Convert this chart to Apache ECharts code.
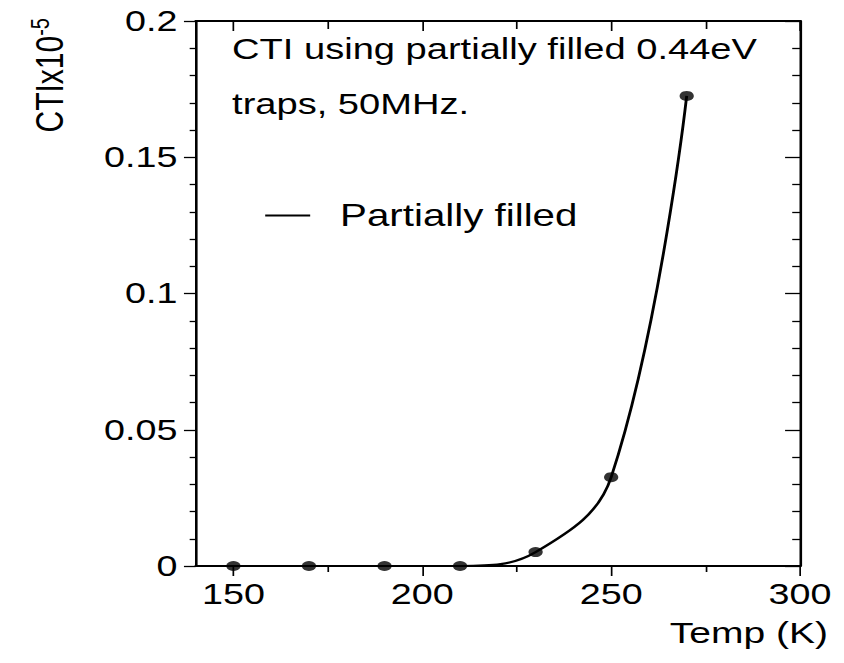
<!DOCTYPE html>
<html>
<head>
<meta charset="utf-8">
<script src="https://cdn.jsdelivr.net/npm/echarts@6/dist/echarts.min.js"></script>
<style>
html,body{margin:0;padding:0;background:#fff;overflow:hidden;}
#wrap{width:844px;height:663px;overflow:hidden;}
#chart{width:649px;height:663px;transform:scaleX(1.3);transform-origin:0 0;}
</style>
</head>
<body>
<div id="wrap"><div id="chart"></div></div>
<script>
// ---- data ----
const temperatures = [150, 170, 190, 210, 230, 250, 270];
const ctiValues = [0, 0, 0, 0, 0.0051, 0.0326, 0.1725];
const xMajorTicks = [150, 200, 250, 300];
const xMinorTicks = [175, 225, 275];
const seriesName = 'Partially filled';
const noteLines = ['CTI using partially filled 0.44eV', 'traps, 50MHz.'];
const xTitle = 'Temp (K)';
const yTitleMain = 'CTIx10';
const yTitleExp = '-5';

// ---- chart ----
const FONT = '"Liberation Sans", Arial, Helvetica, sans-serif';
const points = temperatures.map((t, i) => [t, ctiValues[i]]);
const chart = echarts.init(document.getElementById('chart'), null, {renderer: 'svg'});

function xAxisDef(position, ticks, len, inside, labels, line) {
  return {
    type: 'value', min: 140, max: 300, position: position,
    axisLine: {show: line, onZero: false, lineStyle: {color: '#000', width: 2}},
    axisTick: {show: true, inside: inside, length: len, customValues: ticks,
               lineStyle: {color: '#000', width: 1.3}},
    axisLabel: labels ? {show: true, customValues: ticks, margin: 14, color: '#000',
               fontSize: 29, fontFamily: FONT} : {show: false},
    splitLine: {show: false},
    name: position === 'bottom' && labels ? xTitle : '',
    nameLocation: 'end', nameGap: 21.5,
    nameTextStyle: {color: '#000', fontSize: 30, fontFamily: FONT, align: 'right',
                    verticalAlign: 'top', padding: [52, 0, 0, 0]}
  };
}

chart.setOption({
  animation: false,
  grid: {left: 150.5, right: 33.6, top: 21, bottom: 97, containLabel: false},
  xAxis: [
    xAxisDef('bottom', xMajorTicks, 10, false, true, true),
    xAxisDef('bottom', xMinorTicks, 6, false, false, false),
    xAxisDef('top', xMajorTicks, 10, true, false, true),
    xAxisDef('top', xMinorTicks, 8, true, false, false)
  ],
  yAxis: [
    {
      type: 'value', min: 0, max: 0.2, interval: 0.05, position: 'left',
      axisLine: {show: true, onZero: false, lineStyle: {color: '#000', width: 2}},
      axisTick: {show: true, inside: false, length: 9, lineStyle: {color: '#000', width: 1.3}},
      minorTick: {show: true, splitNumber: 5, length: 4.6, lineStyle: {color: '#000', width: 1.3}},
      axisLabel: {show: true, margin: 14, color: '#000', fontSize: 29, fontFamily: FONT},
      splitLine: {show: false}
    },
    {
      type: 'value', min: 0, max: 0.2, interval: 0.05, position: 'right',
      axisLine: {show: true, onZero: false, lineStyle: {color: '#000', width: 2}},
      axisTick: {show: true, inside: true, length: 11.5, lineStyle: {color: '#000', width: 1.3}},
      minorTick: {show: true, splitNumber: 5, length: 6, lineStyle: {color: '#000', width: 1.3}},
      axisLabel: {show: false},
      splitLine: {show: false}
    }
  ],
  legend: {
    data: [{name: seriesName, icon: 'rect'}], left: 199, top: 195, itemWidth: 34.6, itemHeight: 2,
    selectedMode: false, itemStyle: {color: '#000'},
    textStyle: {color: '#000', fontSize: 31, fontFamily: FONT, padding: [0, 0, 0, 18]}
  },
  graphic: [
    {type: 'text', x: 178.5, y: 49, style: {text: noteLines[0], fill: '#000', fontSize: 29.3,
      fontFamily: FONT, align: 'left', verticalAlign: 'middle'}},
    {type: 'text', x: 178.5, y: 104, style: {text: noteLines[1], fill: '#000', fontSize: 29.3,
      fontFamily: FONT, align: 'left', verticalAlign: 'middle'}},
    {type: 'text', x: 38, y: 18, rotation: Math.PI / 2, style: {
      text: '{b|' + yTitleMain + '}{s|' + yTitleExp + '}',
      align: 'right', verticalAlign: 'middle',
      rich: {
        b: {fontSize: 30, fontFamily: FONT, fill: '#000', color: '#000'},
        s: {fontSize: 20, fontFamily: FONT, fill: '#000', color: '#000', padding: [0, 0, 14, 0]}
      }
    }}
  ],
  series: [
    {
      type: 'line', name: seriesName, data: points, xAxisIndex: 0, yAxisIndex: 0,
      smooth: 0.4, symbol: 'none', lineStyle: {color: '#000', width: 2.2},
      itemStyle: {color: '#000'}, z: 3
    },
    {
      type: 'scatter', name: 'measured', data: points, xAxisIndex: 0, yAxisIndex: 0,
      symbol: 'circle', symbolSize: [11, 10], itemStyle: {color: '#000'}, z: 4
    }
  ]
});
</script>
</body>
</html>
